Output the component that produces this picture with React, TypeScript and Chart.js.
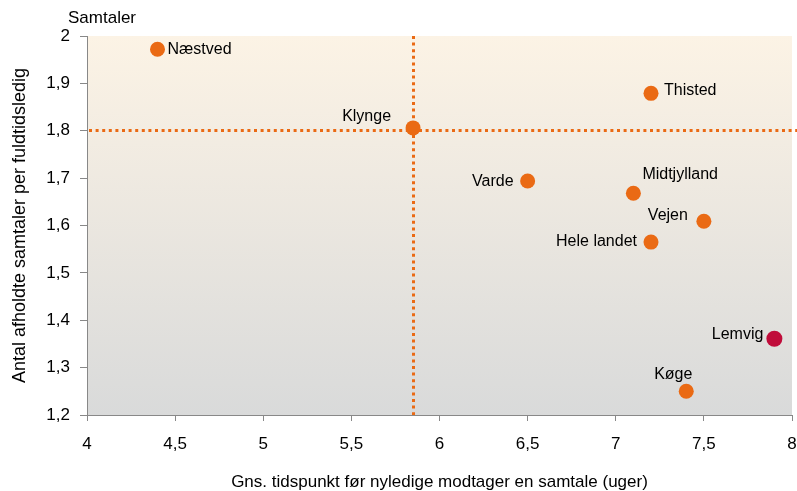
import React, { useEffect, useRef } from "react";
import { Chart, registerables } from "chart.js";

Chart.register(...registerables);

// ---- data ----
const regions = ["Næstved", "Thisted", "Klynge", "Varde", "Midtjylland", "Vejen", "Hele landet", "Lemvig", "Køge"];
const weeks = [4.4, 7.2, 5.85, 6.5, 7.1, 7.5, 7.2, 7.9, 7.4];
const talks = [1.972, 1.879, 1.806, 1.694, 1.668, 1.609, 1.565, 1.361, 1.25];
const refWeeks = 5.85;
const refTalks = 1.801;
const highlighted = "Lemvig";
const yAxisUnit = "Samtaler";
const xTitle = "Gns. tidspunkt før nyledige modtager en samtale (uger)";
const yTitle = "Antal afholdte samtaler per fuldtidsledig";

// ---- styles ----
const ORANGE = "rgb(234,106,20)";
const CRIMSON = "rgb(192,12,58)";
const FONT = "'Liberation Sans', Arial, sans-serif";
const LABEL_SIZE = 16;
const TICK_SIZE = 17;

// label placement relative to the dot (pixels), style only
const labelPlacement: { dx: number; dy: number; align: CanvasTextAlign }[] = [
  { dx: 10, dy: 0, align: "left" },
  { dx: 13, dy: -3, align: "left" },
  { dx: -22, dy: -11, align: "right" },
  { dx: -14, dy: 1, align: "right" },
  { dx: 9, dy: -19, align: "left" },
  { dx: -16, dy: -6, align: "right" },
  { dx: -14, dy: 0, align: "right" },
  { dx: -11, dy: -4, align: "right" },
  { dx: -13, dy: -17, align: "center" },
];

const fmt = (v: number | string) => String(Math.round(Number(v) * 10) / 10).replace(".", ",");

const decorPlugin = {
  id: "decor",
  beforeDraw(chart: any) {
    const { ctx, chartArea: a } = chart;
    ctx.save();
    const g = ctx.createLinearGradient(0, a.top, 0, a.bottom);
    g.addColorStop(0, "rgb(252,243,229)");
    g.addColorStop(1, "rgb(217,218,218)");
    ctx.fillStyle = g;
    ctx.fillRect(a.left, a.top, a.right - a.left, a.bottom - a.top);
    ctx.fillStyle = "#000";
    ctx.font = `17px ${FONT}`;
    ctx.textAlign = "left";
    ctx.textBaseline = "middle";
    ctx.fillText(yAxisUnit, 68, 18);
    ctx.restore();
  },
  beforeDatasetsDraw(chart: any) {
    const { ctx, chartArea: a, scales } = chart;
    const x = Math.round(scales.x.getPixelForValue(refWeeks)) + 0.5;
    const y = Math.round(scales.y.getPixelForValue(refTalks)) + 0.5;
    ctx.save();
    ctx.strokeStyle = ORANGE;
    ctx.lineWidth = 3;
    ctx.setLineDash([3, 3.6]);
    ctx.beginPath();
    ctx.moveTo(x, a.top);
    ctx.lineTo(x, a.bottom);
    ctx.stroke();
    ctx.beginPath();
    ctx.moveTo(a.left + 2, y);
    ctx.lineTo(chart.width, y);
    ctx.stroke();
    ctx.restore();
  },
  afterDatasetsDraw(chart: any) {
    const { ctx, scales } = chart;
    ctx.save();
    ctx.fillStyle = "#000";
    ctx.font = `${LABEL_SIZE}px ${FONT}`;
    ctx.textBaseline = "middle";
    regions.forEach((name, i) => {
      const px = scales.x.getPixelForValue(weeks[i]);
      const py = scales.y.getPixelForValue(talks[i]);
      const p = labelPlacement[i];
      ctx.textAlign = p.align;
      ctx.fillText(name, px + p.dx, py + p.dy);
    });
    ctx.restore();
  },
};

export default function App() {
  const ref = useRef<HTMLCanvasElement | null>(null);

  useEffect(() => {
    document.body.style.margin = "0";
    if (!ref.current) return;
    const chart = new Chart(ref.current, {
      type: "scatter",
      data: {
        datasets: [
          {
            data: regions.map((_, i) => ({ x: weeks[i], y: talks[i] })),
            pointBackgroundColor: regions.map((r) => (r === highlighted ? CRIMSON : ORANGE)),
            pointBorderWidth: 0,
            pointRadius: regions.map((r) => (r === highlighted ? 8 : 7.5)),
            pointHoverRadius: 8,
          },
        ],
      },
      options: {
        responsive: false,
        animation: false,
        devicePixelRatio: 1,
        layout: { autoPadding: false, padding: { top: 36, right: 5, left: 0, bottom: 0 } },
        plugins: { legend: { display: false }, tooltip: { enabled: false } },
        scales: {
          x: {
            type: "linear",
            min: 4,
            max: 8,
            afterFit: (s: any) => {
              s.height = 76;
              s.paddingRight = 0;
              s.paddingLeft = 0;
            },
            ticks: {
              stepSize: 0.5,
              padding: 13,
              color: "#000",
              font: { family: FONT, size: TICK_SIZE },
              callback: (v: any) => fmt(v),
              maxRotation: 0,
            },
            grid: { display: true, drawOnChartArea: false, drawTicks: true, tickLength: 6, color: "#888" },
            border: { display: true, color: "#888", width: 1 },
            title: {
              display: true,
              text: xTitle,
              color: "#000",
              font: { family: FONT, size: 17 },
              padding: { top: 0, bottom: -2 },
            },
          },
          y: {
            type: "linear",
            min: 1.2,
            max: 2,
            afterFit: (s: any) => {
              s.width = 87;
              s.paddingTop = 0;
              s.paddingBottom = 0;
            },
            ticks: {
              stepSize: 0.1,
              padding: 10,
              color: "#000",
              font: { family: FONT, size: TICK_SIZE },
              callback: (v: any) => fmt(v),
            },
            grid: { display: true, drawOnChartArea: false, drawTicks: true, tickLength: 7, color: "#888" },
            border: { display: true, color: "#888", width: 1 },
            title: {
              display: true,
              text: yTitle,
              color: "#000",
              font: { family: FONT, size: 18 },
              padding: { top: 9, bottom: 0 },
            },
          },
        },
      },
      plugins: [decorPlugin],
    });
    return () => chart.destroy();
  }, []);

  return (
    <div style={{ width: 797, height: 491 }}>
      <canvas ref={ref} width={797} height={491} style={{ display: "block", width: 797, height: 491 }} />
    </div>
  );
}
